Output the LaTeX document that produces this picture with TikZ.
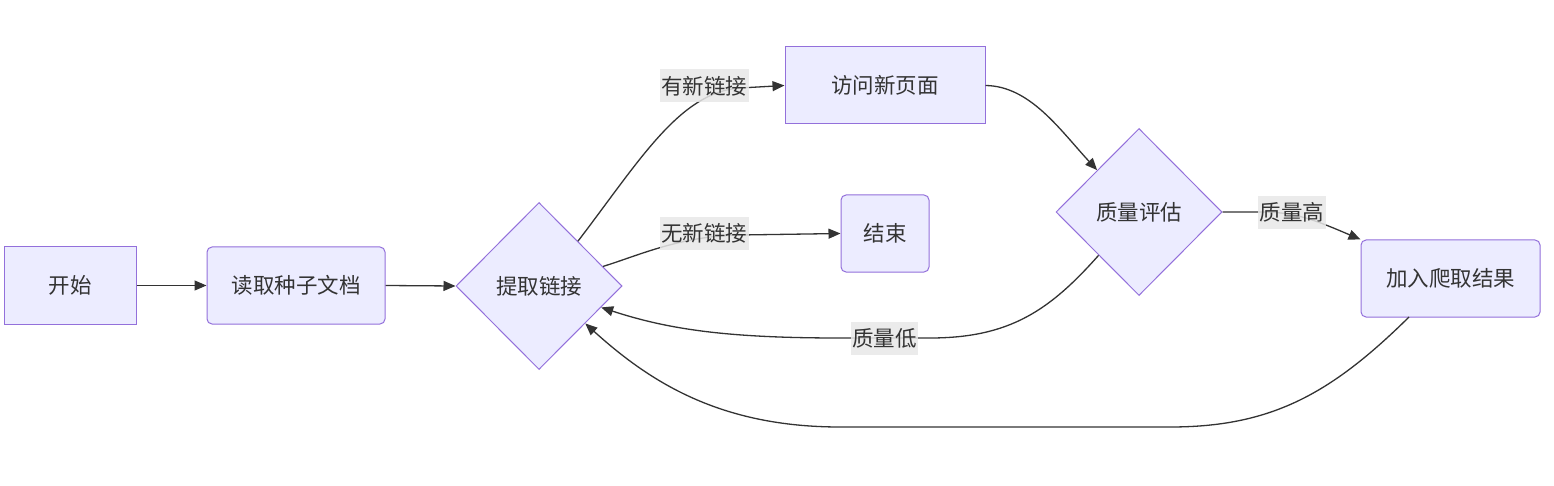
\documentclass[tikz,border=0pt]{standalone}
\usepackage{fontspec}
\setmainfont{Noto Sans CJK SC}
\usetikzlibrary{shapes.geometric,arrows.meta}
\definecolor{nodefill}{HTML}{ECECFF}
\definecolor{nodeline}{HTML}{9370DB}
\definecolor{txt}{HTML}{333333}
\definecolor{edgecol}{HTML}{333333}
\definecolor{lblbg}{HTML}{E8E8E8}
\begin{document}
\begin{tikzpicture}[x=1pt,y=-1pt,
  base/.style={draw=nodeline,fill=nodefill,line width=1pt,text=txt,
    font=\fontsize{21.5}{25}\selectfont,inner sep=0pt},
  sqbox/.style={base,rectangle,minimum height=77pt},
  rbox/.style={base,rectangle,rounded corners=5pt,minimum height=77pt},
  dbox/.style={base,diamond,minimum width=166pt,minimum height=167pt},
  lbl/.style={fill=lblbg,fill opacity=0.85,text opacity=1,text=txt,
    font=\fontsize{21.5}{25}\selectfont,inner xsep=1.5pt,inner ysep=0pt,
    minimum height=33pt},
  edge/.style={draw=edgecol,line width=1.3pt,-{Triangle[length=12pt,width=10pt]}}
]
\useasboundingbox (0,0) rectangle (1554,486);
\fill[white] (0,0) rectangle (1554,486);

\node[sqbox,minimum width=132pt] (s) at (70,285.5) {开始};
\node[rbox,minimum width=178pt] (r) at (296,285.5) {读取种子文档};
\node[dbox] (t) at (539,286) {提取链接};
\node[sqbox,minimum width=200pt] (v) at (885,85.5) {访问新页面};
\node[rbox,minimum width=88pt] (e) at (885,233.5) {结束};
\node[dbox] (q) at (1139,212) {质量评估};
\node[rbox,minimum width=179pt] (a) at (1450.5,278.5) {加入爬取结果};

% edges
\draw[edge] (s.east) -- (r.west);
\draw[edge] (r.east) -- (t.west);
\draw[edge] (t.49) .. controls (640,160) and (680,92) .. (740,88) -- (v.west);
\draw[edge] (t.17) .. controls (640,255) and (680,236) .. (740,235) -- (e.west);
\draw[edge] (v.east) .. controls (1030,86) and (1060,130) .. (q.135);
\draw[edge] (q.east) -- (1262,212) .. controls (1295,212) and (1315,220) .. (a.north west);
\draw[edge] (q.227) .. controls (1050,310) and (1010,338) .. (930,338) -- (840,338) .. controls (730,338) and (670,330) .. (t.-19);
\draw[edge] (1409,317) .. controls (1330,395) and (1270,427) .. (1170,427) -- (840,427) .. controls (720,427) and (650,382) .. (t.-39);

% labels
\node[lbl] (l1) at (704,86) {有新链接};
\node[lbl] (l2) at (704,233.5) {无新链接};
\node[lbl] (l3) at (1292,212.5) {质量高};
\node[lbl] (l4) at (884.5,338.5) {质量低};
\end{tikzpicture}
\end{document}
